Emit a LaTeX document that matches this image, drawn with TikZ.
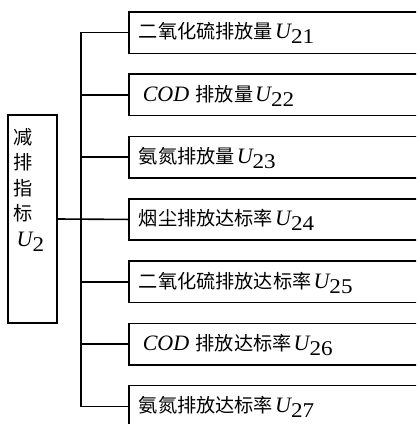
\documentclass[tikz,border=0pt]{standalone}
\usepackage{fontspec}
\setmainfont{Liberation Serif}
\newfontfamily\cjk{Noto Sans CJK SC}
\newcommand\Usub[1]{{\rmfamily\fontsize{22}{22}\selectfont\itshape U}\raisebox{-5pt}{\rmfamily\fontsize{21}{21}\selectfont\scalebox{1.1}[1]{#1}}}
\newcommand\CODtxt{{\rmfamily\fontsize{22}{22}\selectfont\itshape COD} }
\begin{document}
\begin{tikzpicture}[x=1pt,y=-1pt,
  frame/.style={draw, line width=1.6pt},
  item/.style={frame, anchor=north west, inner xsep=7.5pt, inner ysep=0pt,
    minimum width=300pt, text width=280pt, align=left,
    text height=27pt, text depth=14.5pt,
    font=\cjk\fontsize{19.2}{19.2}\selectfont},
  link/.style={line width=1.6pt}]
\useasboundingbox (0,0) rectangle (416,424);
\clip (0,0) rectangle (416,424);
\node[item] (b1) at (128,11)    {二氧化硫排放量\hspace{2pt}\Usub{21}};
\node[item] (b2) at (128,73.3)  {\hspace{4pt}\CODtxt 排放量\hspace{2pt}\Usub{22}};
\node[item] (b3) at (128,135.6) {氨氮排放量\hspace{2pt}\Usub{23}};
\node[item] (b4) at (128,197.9) {烟尘排放达标率\hspace{2pt}\Usub{24}};
\node[item] (b5) at (128,260.2) {二氧化硫排放达标率\hspace{2pt}\Usub{25}};
\node[item] (b6) at (128,322.5) {\hspace{4pt}\CODtxt 排放达标率\hspace{2pt}\Usub{26}};
\node[item] (b7) at (128,384.8) {氨氮排放达标率\hspace{2pt}\Usub{27}};
\node[frame, minimum width=49pt, minimum height=208pt, inner sep=0] (L) at (32.5,219) {};
\node[anchor=base west, align=left, inner sep=0,
  font=\cjk\fontsize{19.2}{25.5}\selectfont] (Lt) at (13.5,246)
  {减\\排\\指\\标\\\hspace{3pt}\Usub{2}};
\coordinate (trunk) at (81,0);
\draw[link] (b1.west) -- (b1.west -| trunk) -- (b7.west -| trunk) -- (b7.west);
\draw[link] (b2.west) -- (b2.west -| trunk);
\draw[link] (b3.west) -- (b3.west -| trunk);
\draw[link] (L.east) -- (b4.west);
\draw[link] (b5.west) -- (b5.west -| trunk);
\draw[link] (b6.west) -- (b6.west -| trunk);
\end{tikzpicture}
\end{document}
